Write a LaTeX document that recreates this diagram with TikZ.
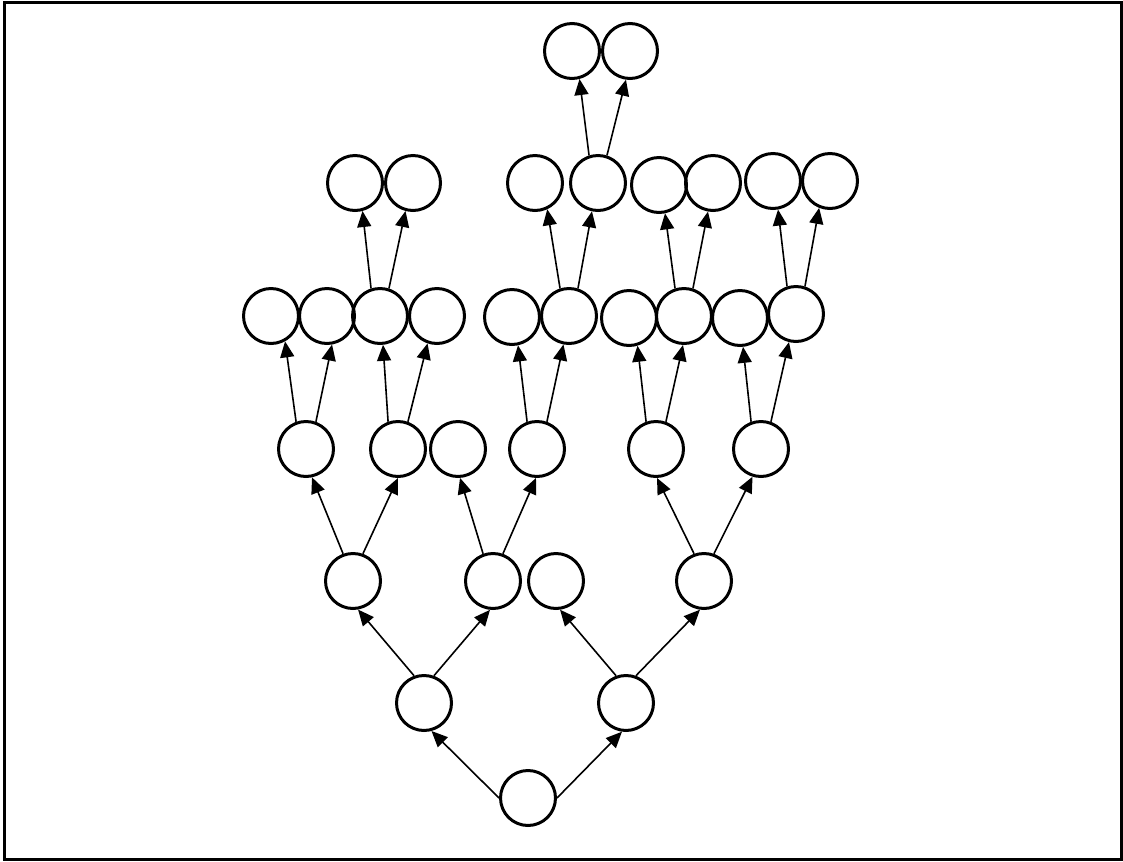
\documentclass[tikz,border=0pt]{standalone}
\usetikzlibrary{arrows.meta}
\begin{document}
\begin{tikzpicture}[x=0.02cm,y=-0.02cm,
  nd/.style={circle,draw=black,line width=0.06cm,minimum size=1.1cm,inner sep=0pt},
  ed/.style={line width=0.032cm,-{Triangle[length=0.32cm,width=0.28cm]}}]
\useasboundingbox (0,0) rectangle (1123,862);
\draw[line width=0.06cm] (4.5,2.5) rectangle (1121,859.5);
% nodes
\node[nd] (root) at (528,798) {};
\node[nd] (r1a) at (424,703) {};
\node[nd] (r1b) at (626,703) {};
\node[nd] (r2a) at (353,581) {};
\node[nd] (r2b) at (493,581) {};
\node[nd] (r2c) at (556,581) {};
\node[nd] (r2d) at (704,581) {};
\node[nd] (r3a) at (306,449) {};
\node[nd] (r3b) at (398,449) {};
\node[nd] (r3c) at (458,449) {};
\node[nd] (r3d) at (537,449) {};
\node[nd] (r3e) at (656,449) {};
\node[nd] (r3f) at (761,449) {};
\node[nd] (r4a) at (271,316) {};
\node[nd] (r4b) at (327,316) {};
\node[nd] (r4c) at (380,316) {};
\node[nd] (r4d) at (437,316) {};
\node[nd] (r4e) at (512,317) {};
\node[nd] (r4f) at (569,316) {};
\node[nd] (r4g) at (629,318) {};
\node[nd] (r4h) at (684,316) {};
\node[nd] (r4i) at (740,318) {};
\node[nd] (r4j) at (796,314) {};
\node[nd] (r5a) at (355,183) {};
\node[nd] (r5b) at (413,183) {};
\node[nd] (r5c) at (535,183) {};
\node[nd] (r5d) at (598,183) {};
\node[nd] (r5e) at (659,185) {};
\node[nd] (r5f) at (713,183) {};
\node[nd] (r5g) at (773,181) {};
\node[nd] (r5h) at (830,181) {};
\node[nd] (r6a) at (572,51) {};
\node[nd] (r6b) at (630,51) {};
% edges
\draw[ed] (root.180) -- (r1a.285);
\draw[ed] (root.0) -- (r1b.262);
\draw[ed] (r1a.110) -- (r2a.280);
\draw[ed] (r1a.70) -- (r2b.264);
\draw[ed] (r1b.110) -- (r2c.278);
\draw[ed] (r1b.70) -- (r2d.262);
\draw[ed] (r2a.110) -- (r3a.282);
\draw[ed] (r2a.70) -- (r3b.270);
\draw[ed] (r2b.110) -- (r3c.274);
\draw[ed] (r2b.70) -- (r3d.268);
\draw[ed] (r2d.110) -- (r3e.272);
\draw[ed] (r2d.70) -- (r3f.253);
\draw[ed] (r3a.110) -- (r4a.299);
\draw[ed] (r3a.70) -- (r4b.280);
\draw[ed] (r3b.110) -- (r4c.276);
\draw[ed] (r3b.70) -- (r4d.251);
\draw[ed] (r3d.110) -- (r4e.282);
\draw[ed] (r3d.70) -- (r4f.259);
\draw[ed] (r3e.110) -- (r4g.287);
\draw[ed] (r3e.70) -- (r4h.268);
\draw[ed] (r3f.110) -- (r4i.276);
\draw[ed] (r3f.70) -- (r4j.256);
\draw[ed] (r4c.108) -- (r5a.285);
\draw[ed] (r4c.72) -- (r5b.255);
\draw[ed] (r4f.108) -- (r5c.295);
\draw[ed] (r4f.72) -- (r5d.258);
\draw[ed] (r4h.108) -- (r5e.282);
\draw[ed] (r4h.72) -- (r5f.260);
\draw[ed] (r4j.108) -- (r5g.280);
\draw[ed] (r4j.72) -- (r5h.248);
\draw[ed] (r5d.108) -- (r6a.285);
\draw[ed] (r5d.72) -- (r6b.262);
\end{tikzpicture}
\end{document}
